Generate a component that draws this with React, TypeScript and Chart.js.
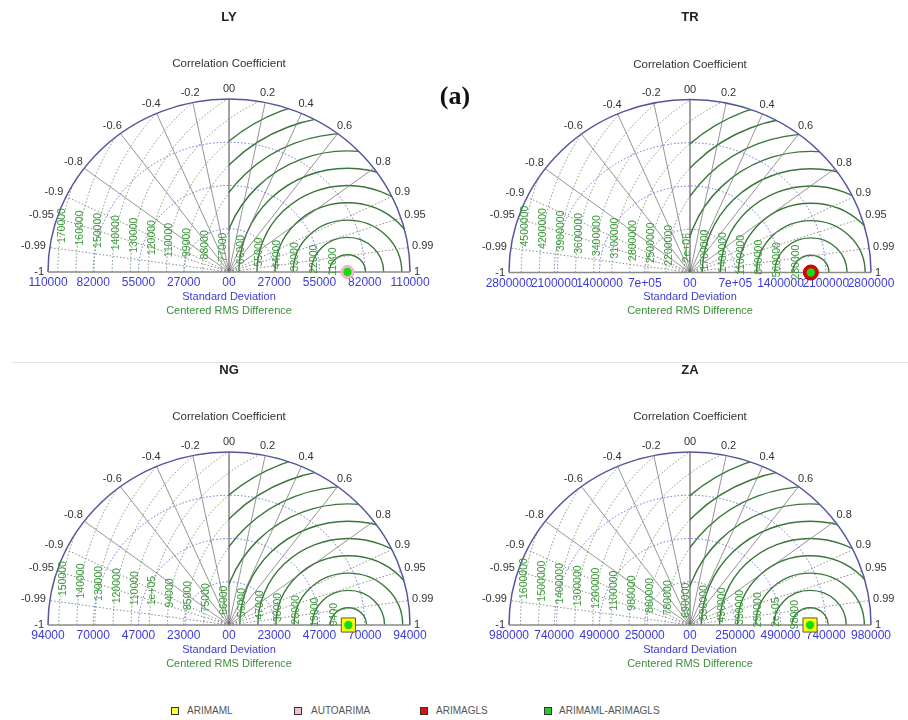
import React, { useEffect, useRef } from "react";
import { Chart, registerables } from "chart.js";
Chart.register(...registerables);

// ---------- data ----------
const panelTitles = ["LY", "TR", "NG", "ZA"];
const sdMax = [110000, 2800000, 94000, 980000];
const obsSD = [72000, 1870000, 62000, 650000];

const corrTicks = [-1, -0.99, -0.95, -0.9, -0.8, -0.6, -0.4, -0.2, 0, 0.2, 0.4, 0.6, 0.8, 0.9, 0.95, 0.99, 1];
const corrTickLabels = ["-1", "-0.99", "-0.95", "-0.9", "-0.8", "-0.6", "-0.4", "-0.2", "00", "0.2", "0.4", "0.6", "0.8", "0.9", "0.95", "0.99", "1"];

const sdLabelsLY = ["110000", "82000", "55000", "27000", "00", "27000", "55000", "82000", "110000"];
const sdLabelsTR = ["2800000", "2100000", "1400000", "7e+05", "00", "7e+05", "1400000", "2100000", "2800000"];
const sdLabelsNG = ["94000", "70000", "47000", "23000", "00", "23000", "47000", "70000", "94000"];
const sdLabelsZA = ["980000", "740000", "490000", "250000", "00", "250000", "490000", "740000", "980000"];

const rmsLabelsLY = ["11000", "22000", "33000", "44000", "55000", "66000", "77000", "88000", "99000", "110000", "120000", "130000", "140000", "150000", "160000", "170000"];
const rmsLabelsTR = ["280000", "560000", "840000", "1100000", "1400000", "1700000", "2e+06", "2200000", "2500000", "2800000", "3100000", "3400000", "3600000", "3900000", "4200000", "4500000"];
const rmsLabelsNG = ["9400", "19000", "28000", "38000", "47000", "56000", "66000", "75000", "85000", "94000", "1e+05", "110000", "120000", "130000", "140000", "150000"];
const rmsLabelsZA = ["98000", "2e+05", "290000", "390000", "490000", "590000", "690000", "780000", "880000", "980000", "1100000", "1200000", "1300000", "1400000", "1500000", "1600000"];

const modelNames = ["ARIMAML", "AUTOARIMA", "ARIMAGLS", "ARIMAML-ARIMAGLS"];
const modelSdLY = [72000, 72000, 72000, 72000];
const modelSdTR = [1870000, 1870000, 1870000, 1870000];
const modelSdNG = [62000, 62000, 62000, 62000];
const modelSdZA = [650000, 650000, 650000, 650000];
const modelCorLY = [1, 1, 1, 1];
const modelCorTR = [1, 1, 1, 1];
const modelCorNG = [1, 1, 1, 1];
const modelCorZA = [1, 1, 1, 1];

const sdLabels = [sdLabelsLY, sdLabelsTR, sdLabelsNG, sdLabelsZA];
const rmsLabels = [rmsLabelsLY, rmsLabelsTR, rmsLabelsNG, rmsLabelsZA];
const modelSd = [modelSdLY, modelSdTR, modelSdNG, modelSdZA];
const modelCor = [modelCorLY, modelCorTR, modelCorNG, modelCorZA];

// ---------- styles / layout ----------
const modelFill = ["#ffff00", "#f6b8c6", "#dd0000", "#11dd11"];
const modelBorder = ["#555555", "#eea4b6", "#b00000", "#11dd11"];
const modelStyle = ["rect", "circle", "circle", "circle"];
const visibleModel = [1, 2, 0, 0];
const visibleRadius = [6.5, 7.5, 10, 10];

const panelLeft = [0, 454, 0, 454];
const panelTop = [0, 0, 350, 350];
const panelH = [340, 340, 330, 330];
const originX = [229, 236, 229, 236];
const originY = [272, 272.5, 275, 275];
const RX = 181;
const RY = 173;
const FONT = '"Liberation Sans", Arial, Helvetica, sans-serif';

function Panel({ idx }: { idx: number }) {
  const ref = useRef<HTMLCanvasElement | null>(null);
  useEffect(() => {
    const canvas = ref.current;
    if (!canvas) return;
    const R = sdMax[idx];
    const W = 454;
    const H = panelH[idx];
    const ox = originX[idx];
    const oy = originY[idx];

    const datasets: any[] = modelNames.map((name, m) => {
      const sd = modelSd[idx][m];
      const c = modelCor[idx][m];
      const isGreen = m === 3;
      const isVis = m === visibleModel[idx];
      return {
        label: name,
        data: [{ x: sd * c, y: sd * Math.sqrt(Math.max(0, 1 - c * c)) }],
        pointStyle: modelStyle[m],
        pointRadius: isGreen ? 4.2 : isVis ? visibleRadius[idx] : 5,
        backgroundColor: modelFill[m],
        borderColor: modelBorder[m],
        borderWidth: isGreen ? 0 : 1,
        order: isGreen ? 0 : isVis ? 1 : 2 + m,
        clip: false,
        showLine: false,
      };
    });

    const gridPlugin = {
      id: "taylorGrid" + idx,
      beforeDatasetsDraw(chart: any) {
        const ctx: CanvasRenderingContext2D = chart.ctx;
        const xs = chart.scales.x;
        const ys = chart.scales.y;
        const px = (v: number) => xs.getPixelForValue(v);
        const py = (v: number) => ys.getPixelForValue(v);
        const cx0 = px(0);
        const cy0 = py(0);
        const rxp = px(R) - cx0;
        const ryp = cy0 - py(R);

        ctx.save();
        ctx.beginPath();
        ctx.ellipse(cx0, cy0, rxp, ryp, 0, Math.PI, 2 * Math.PI);
        ctx.closePath();
        ctx.clip();

        // SD circles (blue dotted)
        ctx.strokeStyle = "#6c6cd6";
        ctx.lineWidth = 1;
        ctx.setLineDash([1.5, 2]);
        [0.25, 0.5, 0.75].forEach((f) => {
          ctx.beginPath();
          ctx.ellipse(cx0, cy0, f * rxp, f * ryp, 0, Math.PI, 2 * Math.PI);
          ctx.stroke();
        });

        // RMS circles
        const rc = px(obsSD[idx]);
        const n = rmsLabels[idx].length;
        for (let k = 1; k <= n; k++) {
          const r = (k * R) / 10;
          const erx = (r / R) * rxp;
          const ery = (r / R) * ryp;
          if (k <= 10) {
            ctx.save();
            ctx.beginPath();
            ctx.rect(cx0, 0, W, cy0);
            ctx.clip();
            ctx.setLineDash([]);
            ctx.strokeStyle = "#3a763a";
            ctx.lineWidth = 1.4;
            ctx.beginPath();
            ctx.ellipse(rc, cy0, erx, ery, 0, Math.PI, 2 * Math.PI);
            ctx.stroke();
            ctx.restore();
          }
          ctx.save();
          ctx.beginPath();
          if (k <= 10) ctx.rect(0, 0, cx0, cy0);
          else ctx.rect(0, 0, W, cy0);
          ctx.clip();
          ctx.setLineDash([1.5, 2]);
          ctx.strokeStyle = "#6f9a6f";
          ctx.lineWidth = 1;
          ctx.beginPath();
          ctx.ellipse(rc, cy0, erx, ery, 0, Math.PI, 2 * Math.PI);
          ctx.stroke();
          ctx.restore();
        }
        ctx.restore();

        // radial correlation lines
        corrTicks.forEach((c) => {
          if (Math.abs(c) === 1 || c === 0) return;
          const s = Math.sqrt(1 - c * c);
          const dotted = Math.abs(c) > 0.85;
          ctx.setLineDash(dotted ? [1.5, 2] : []);
          ctx.strokeStyle = dotted ? "#8a8a8a" : "#7a7a7a";
          ctx.lineWidth = dotted ? 1 : 0.8;
          ctx.beginPath();
          ctx.moveTo(cx0, cy0);
          ctx.lineTo(cx0 + c * rxp, cy0 - s * ryp);
          ctx.stroke();
        });
        ctx.setLineDash([]);
        ctx.strokeStyle = "#555555";
        ctx.lineWidth = 1.1;
        ctx.beginPath();
        ctx.moveTo(cx0, cy0);
        ctx.lineTo(cx0, cy0 - ryp);
        ctx.stroke();
        ctx.strokeStyle = "#55559c";
        ctx.lineWidth = 1.5;
        ctx.beginPath();
        ctx.ellipse(cx0, cy0, rxp, ryp, 0, Math.PI, 2 * Math.PI);
        ctx.stroke();
        ctx.strokeStyle = "#8a8a8a";
        ctx.lineWidth = 1.5;
        ctx.beginPath();
        ctx.moveTo(cx0 - rxp, cy0);
        ctx.lineTo(cx0 + rxp, cy0);
        ctx.stroke();

        // ---- texts ----
        ctx.textAlign = "center";
        ctx.textBaseline = "middle";
        ctx.fillStyle = "#222";
        ctx.font = "bold 13px " + FONT;
        ctx.fillText(panelTitles[idx], cx0, cy0 - 255);
        ctx.font = "11.5px " + FONT;
        ctx.fillStyle = "#333";
        ctx.fillText("Correlation Coefficient", cx0, cy0 - 208);

        ctx.font = "11px " + FONT;
        ctx.fillStyle = "#333";
        corrTicks.forEach((c, i) => {
          const s = Math.sqrt(Math.max(0, 1 - c * c));
          const lab = corrTickLabels[i];
          const w = ctx.measureText(lab).width;
          const x = cx0 + c * rxp + 4 * c + (w / 2) * c;
          const y = cy0 - s * ryp - 4 * s - 6 * s;
          ctx.fillText(lab, x, y);
        });

        ctx.font = "12px " + FONT;
        ctx.fillStyle = "#3b3bd6";
        sdLabels[idx].forEach((lab, i) => {
          const v = (R * (i - 4)) / 4;
          ctx.fillText(lab, px(v), cy0 + 11);
        });
        ctx.font = "11px " + FONT;
        ctx.fillText("Standard Deviation", cx0, cy0 + 24.5);
        ctx.fillStyle = "#3c8f3c";
        ctx.fillText("Centered RMS Difference", cx0, cy0 + 38.5);

        ctx.font = "10.5px " + FONT;
        ctx.fillStyle = "#3a9a3a";
        rmsLabels[idx].forEach((lab, i) => {
          const k = i + 1;
          const r = (k * R) / 10;
          const hpx = 8 + 2.4 * k;
          const yv = (hpx / ryp) * R;
          if (yv >= r) return;
          const xv = obsSD[idx] - Math.sqrt(r * r - yv * yv);
          ctx.save();
          ctx.translate(px(xv), py(yv));
          ctx.rotate(-Math.PI / 2);
          ctx.fillText(lab, 0, 0);
          ctx.restore();
        });
      },
    };

    const chart = new Chart(canvas, {
      type: "scatter",
      data: { datasets },
      options: {
        responsive: false,
        animation: false,
        events: [],
        layout: {
          padding: { left: ox - RX, right: W - ox - RX, top: oy - RY, bottom: H - oy },
        },
        plugins: { legend: { display: false }, tooltip: { enabled: false } },
        scales: {
          x: { type: "linear", min: -R, max: R, display: false },
          y: { type: "linear", min: 0, max: R, display: false },
        },
      },
      plugins: [gridPlugin],
    } as any);
    return () => chart.destroy();
  }, [idx]);
  return (
    <canvas
      ref={ref}
      width={454}
      height={panelH[idx]}
      style={{ position: "absolute", left: panelLeft[idx], top: panelTop[idx], width: 454, height: panelH[idx] }}
    />
  );
}

const legendSquareX = [171, 294, 420, 544];
const legendTextX = [187, 311, 436, 559];
const legendFill = ["#ffff33", "#f4c2cc", "#dd1111", "#22cc22"];

export default function App() {
  return (
    <div style={{ position: "absolute", left: 0, top: 0, width: 908, height: 720, background: "#fff", overflow: "hidden" }}>
      {[0, 1, 2, 3].map((i) => (
        <Panel key={i} idx={i} />
      ))}
      <div style={{ position: "absolute", left: 12, top: 362, width: 896, height: 1, background: "#e2e2e2" }} />
      <div
        style={{
          position: "absolute",
          left: 425,
          top: 80,
          width: 60,
          textAlign: "center",
          font: 'bold 26px "Liberation Serif", "DejaVu Serif", serif',
          color: "#111",
          lineHeight: "32px",
        }}
      >
        (a)
      </div>
      {modelNames.map((name, i) => (
        <React.Fragment key={name}>
          <div
            style={{
              position: "absolute",
              left: legendSquareX[i],
              top: 707,
              width: 6,
              height: 6,
              background: legendFill[i],
              border: "1px solid #333",
            }}
          />
          <div
            style={{
              position: "absolute",
              left: legendTextX[i],
              top: 704,
              font: "10px " + FONT,
              color: "#555",
              lineHeight: "14px",
              whiteSpace: "nowrap",
            }}
          >
            {name}
          </div>
        </React.Fragment>
      ))}
    </div>
  );
}
